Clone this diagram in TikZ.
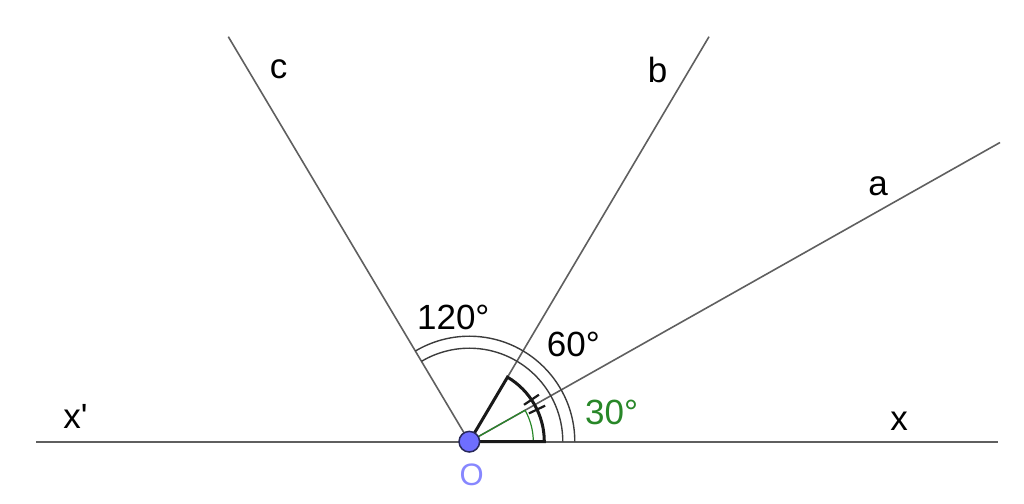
\documentclass[tikz,border=0pt]{standalone}
\usepackage{fontspec}
\setmainfont{Liberation Sans}
\definecolor{raygray}{RGB}{95,95,95}
\definecolor{arcgray}{RGB}{60,60,60}
\definecolor{anggreen}{RGB}{40,135,40}
\definecolor{ptfill}{RGB}{110,110,255}
\definecolor{ptdraw}{RGB}{40,40,90}
\definecolor{ptlabel}{RGB}{135,135,255}
\tikzset{
  ray/.style={draw=raygray, line width=1.6pt},
  dblarc/.style={draw=arcgray, line width=1.4pt},
  greensec/.style={draw=anggreen, line width=1.2pt},
  blacksec/.style={draw=black!90, line width=3pt, line join=miter},
  tickmark/.style={draw=black!90, line width=2.2pt},
  lbl/.style={inner sep=0pt, font=\fontsize{35}{42}\selectfont},
}
\begin{document}
\begin{tikzpicture}[x=1pt,y=1pt]
\useasboundingbox (0,0) rectangle (1024,503);
% points
\coordinate (O) at (469.3,61.3);
\coordinate (XL) at (36,61.3);
\coordinate (XR) at (998,61.3);
\coordinate (A) at (1000,360.5);
\coordinate (B) at (709,466.3);
\coordinate (C) at (228.3,466.3);
% rays
\draw[ray] (XL) -- (XR);
\draw[ray] (O) -- (A);
\draw[ray] (O) -- (B);
\draw[ray] (O) -- (C);
% 120 degree double arc
\draw[dblarc] ([shift={(0:93.5pt)}]O) arc[start angle=0, end angle=120.75, radius=93.5pt];
\draw[dblarc] ([shift={(0:105.5pt)}]O) arc[start angle=0, end angle=120.75, radius=105.5pt];
% 30 degree green sector
\draw[greensec] (O) -- ++(0:64pt) arc[start angle=0, end angle=29.42, radius=64pt] -- cycle;
% 60 degree thick sector
\draw[blacksec] (O) -- ++(0:75pt) arc[start angle=0, end angle=59.38, radius=75pt] -- cycle;
\draw[tickmark] ([shift={(25.4:66pt)}]O) -- ([shift={(25.4:84pt)}]O);
\draw[tickmark] ([shift={(34:66pt)}]O) -- ([shift={(34:84pt)}]O);
% point O
\fill[ptfill, draw=ptdraw, line width=1.5pt] (O) circle[radius=10.3pt];
% labels
\node[lbl] (l120) at (453.3,185.5) {120°};
\node[lbl] (l60) at (573.3,158.8) {60°};
\node[lbl, text=anggreen] (l30) at (611.7,90.5) {30°};
\node[lbl] (la) at (878,317) {a};
\node[lbl] (lb) at (657.5,433) {b};
\node[lbl] (lc) at (278.5,434) {c};
\node[lbl] (lx) at (899,81.3) {x};
\node[lbl, anchor=base] (lxp) at (75.5,74.7) {x\textquotesingle};
\node[inner sep=0pt, font=\fontsize{31}{36}\selectfont, text=ptlabel] (lO) at (471.7,28) {O};
\end{tikzpicture}
\end{document}
